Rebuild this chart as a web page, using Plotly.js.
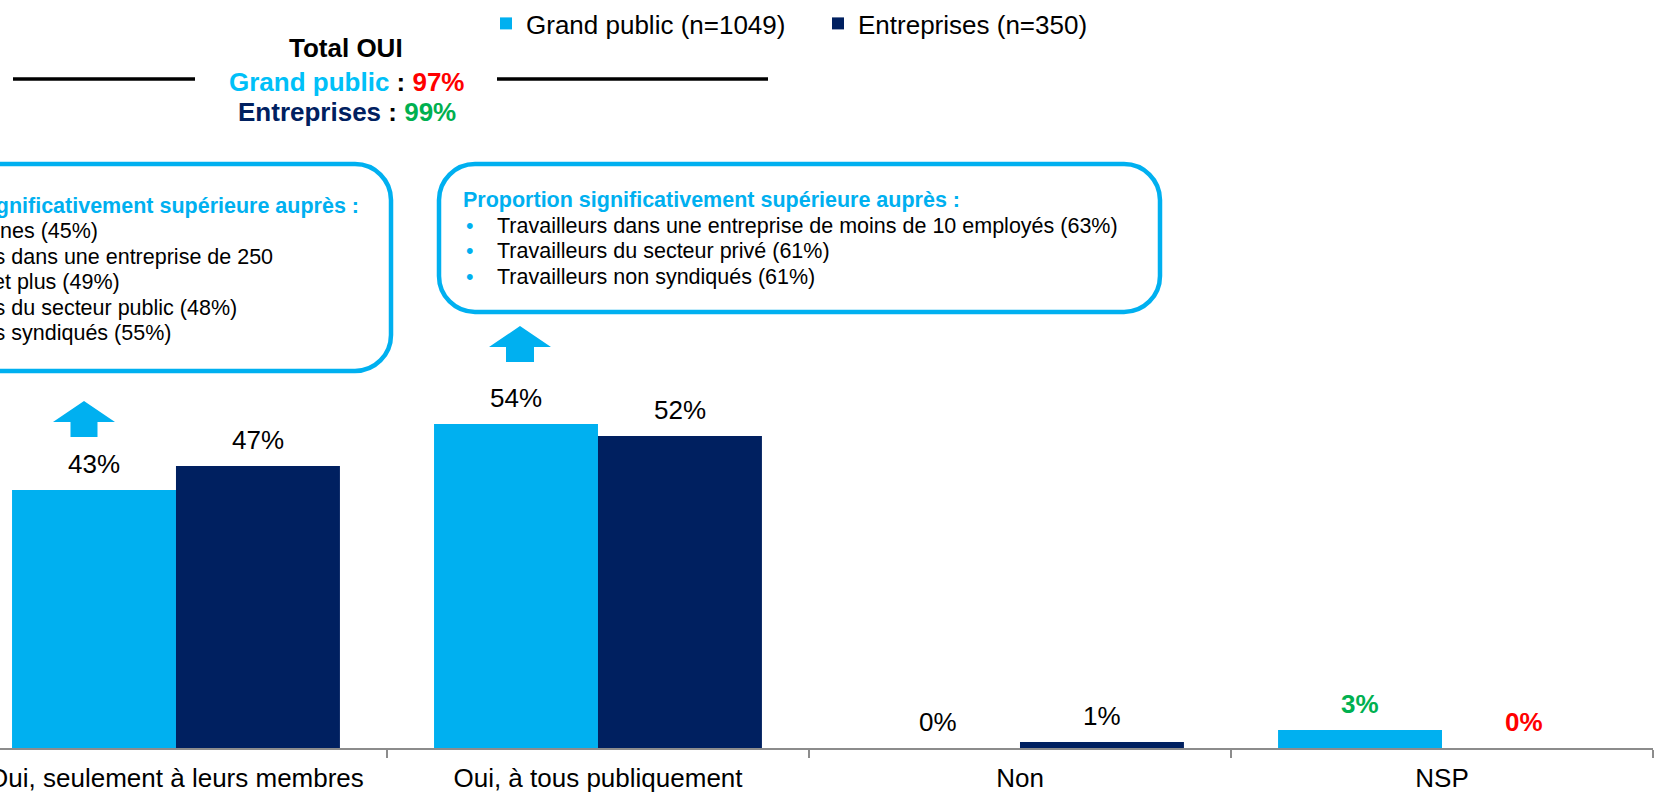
<!DOCTYPE html>
<html><head><meta charset="utf-8">
<script src="https://cdn.plot.ly/plotly-3.0.1.min.js"></script>
<style>html,body{margin:0;padding:0;background:#fff;overflow:hidden}</style>
</head><body><div id="chart" style="width:1657px;height:795px"></div>
<script>
// ---------- data ----------
const categories = ["Oui, seulement à leurs membres", "Oui, à tous publiquement", "Non", "NSP"];
const seriesNames = ["Grand public (n=1049)", "Entreprises (n=350)"];
const grandPublic = [43, 54, 0, 3];
const entreprises = [47, 52, 1, 0];
const labelColorGP = ["#000000", "#000000", "#000000", "#00B050"];
const labelColorEnt = ["#000000", "#000000", "#000000", "#FF0000"];
const labelBoldGP = [false, false, false, true];
const labelBoldEnt = [false, false, false, true];
const totalTitle = "Total OUI";
const totalGroups = ["Grand public", "Entreprises"];
const totalValues = [97, 99];
const totalGroupColors = ["#00C0F8", "#002060"];
const totalValueColors = ["#FF0000", "#00B050"];
const boxTitle = "Proportion significativement supérieure auprès :";
const box1Lines = ["nes (45%)", "Travailleurs dans une entreprise de 250", "employés et plus (49%)", "Travailleurs du secteur public (48%)", "Travailleurs syndiqués (55%)"];
const box1Bullets = [true, true, false, true, true];
const box2Lines = ["Travailleurs dans une entreprise de moins de 10 employés (63%)", "Travailleurs du secteur privé (61%)", "Travailleurs non syndiqués (61%)"];

// ---------- style ----------
const C_LIGHT = "#00B0F0", C_DARK = "#002060";
const FONT = "Liberation Sans, Arial, Helvetica, sans-serif";
const W = 1657, H = 795, ML = 0, MR = 4, MT = 0, MB = 47;
const PW = W - ML - MR, PH = H - MT - MB;
const PX_PER_UNIT = 6;
const BOX_FONT = 21.5;
const X = px => (px - ML) / PW;
const Y = py => (MT + PH - py) / PH;
const f = v => v.toFixed(5);

function roundRect(x0, y0, x1, y1, r) {
  const k = 0.5523 * r;
  return `M${f(X(x0 + r))},${f(Y(y0))} L${f(X(x1 - r))},${f(Y(y0))} ` +
    `C${f(X(x1 - r + k))},${f(Y(y0))} ${f(X(x1))},${f(Y(y0 + r - k))} ${f(X(x1))},${f(Y(y0 + r))} ` +
    `L${f(X(x1))},${f(Y(y1 - r))} ` +
    `C${f(X(x1))},${f(Y(y1 - r + k))} ${f(X(x1 - r + k))},${f(Y(y1))} ${f(X(x1 - r))},${f(Y(y1))} ` +
    `L${f(X(x0 + r))},${f(Y(y1))} ` +
    `C${f(X(x0 + r - k))},${f(Y(y1))} ${f(X(x0))},${f(Y(y1 - r + k))} ${f(X(x0))},${f(Y(y1 - r))} ` +
    `L${f(X(x0))},${f(Y(y0 + r))} ` +
    `C${f(X(x0))},${f(Y(y0 + r - k))} ${f(X(x0 + r - k))},${f(Y(y0))} ${f(X(x0 + r))},${f(Y(y0))} Z`;
}
function upArrow(cx, top, base, bottom, hw, sw) {
  return `M${f(X(cx))},${f(Y(top))} L${f(X(cx + hw))},${f(Y(base))} L${f(X(cx + sw))},${f(Y(base))} ` +
    `L${f(X(cx + sw))},${f(Y(bottom))} L${f(X(cx - sw))},${f(Y(bottom))} L${f(X(cx - sw))},${f(Y(base))} ` +
    `L${f(X(cx - hw))},${f(Y(base))} Z`;
}

const BARGAP = 0.223;
const HALF = (1 - BARGAP) / 4;

const traces = [
  {type: "bar", name: seriesNames[0], x: categories, y: grandPublic, marker: {color: C_LIGHT, line: {width: 0}}},
  {type: "bar", name: seriesNames[1], x: categories, y: entreprises, marker: {color: C_DARK, line: {width: 0}}}
];

const annotations = [];
function valueLabel(i, v, off, color, bold) {
  annotations.push({xref: "x", yref: "y", x: i + off, y: v, yanchor: "bottom", xanchor: "center",
    yshift: 9, showarrow: false, text: bold ? `<b>${v}%</b>` : `${v}%`,
    font: {family: FONT, size: 26, color: color}});
}
grandPublic.forEach((v, i) => valueLabel(i, v, -HALF, labelColorGP[i], labelBoldGP[i]));
entreprises.forEach((v, i) => valueLabel(i, v, HALF, labelColorEnt[i], labelBoldEnt[i]));

function paperText(text, px, py, size, color, anchor) {
  annotations.push({xref: "paper", yref: "paper", x: X(px), y: Y(py), xanchor: anchor || "center", yanchor: "middle",
    showarrow: false, text: text, font: {family: FONT, size: size, color: color}});
}
// Total OUI block
paperText(`<b>${totalTitle}</b>`, 346, 48, 26, "#000000");
totalGroups.forEach((g, i) => {
  paperText(`<b><span style="color:${totalGroupColors[i]}">${g}</span> : <span style="color:${totalValueColors[i]}">${totalValues[i]}%</span></b>`,
    347, 82 + i * 30, 26, "#000000");
});

// box texts
paperText(`<b>${boxTitle}</b>`, 461, 200, BOX_FONT, C_LIGHT, "left");
box2Lines.forEach((t, i) => {
  paperText("•", 464, 226 + i * 25.5, BOX_FONT, C_LIGHT, "left");
  paperText(t, 495, 226 + i * 25.5, BOX_FONT, "#000000", "left");
});
paperText(`<b>${boxTitle}</b>`, -140, 206, BOX_FONT, C_LIGHT, "left");
box1Lines.forEach((t, i) => {
  if (box1Bullets[i]) paperText("•", -138, 231 + i * 25.5, BOX_FONT, C_LIGHT, "left");
  paperText(t, i === 0 ? -2 : -107, 231 + i * 25.5, BOX_FONT, "#000000", "left");
});

const shapes = [
  {type: "line", xref: "paper", yref: "paper", x0: X(13), x1: X(195), y0: Y(79), y1: Y(79), line: {color: "#000000", width: 3.5}},
  {type: "line", xref: "paper", yref: "paper", x0: X(497), x1: X(768), y0: Y(79), y1: Y(79), line: {color: "#000000", width: 3.5}},
  {type: "path", xref: "paper", yref: "paper", path: roundRect(-200, 164, 391, 371, 36), line: {color: C_LIGHT, width: 4.5}, fillcolor: "rgba(0,0,0,0)"},
  {type: "path", xref: "paper", yref: "paper", path: roundRect(439, 164, 1160, 312, 36), line: {color: C_LIGHT, width: 4.5}, fillcolor: "rgba(0,0,0,0)"},
  {type: "path", xref: "paper", yref: "paper", path: upArrow(84, 401, 422, 437, 31, 13.5), line: {width: 0}, fillcolor: C_LIGHT},
  {type: "path", xref: "paper", yref: "paper", path: upArrow(520, 326, 347, 362, 31, 14), line: {width: 0}, fillcolor: C_LIGHT}
];

const layout = {
  width: W, height: H,
  margin: {l: ML, r: MR, t: MT, b: MB, pad: 0},
  paper_bgcolor: "#ffffff", plot_bgcolor: "#ffffff",
  barmode: "group", bargap: BARGAP, bargroupgap: 0,
  font: {family: FONT, size: 26, color: "#000000"},
  showlegend: true,
  legend: {orientation: "h", x: X(486), y: 1, xanchor: "left", yanchor: "top",
    bgcolor: "rgba(0,0,0,0)", font: {family: FONT, size: 26, color: "#000000"}, entrywidth: 287, traceorder: "normal"},
  xaxis: {type: "category", range: [-0.417, 3.5], showline: true, linecolor: "#8C8C8C", linewidth: 2,
    ticks: "outside", ticklen: 8, tickwidth: 1.5, tickcolor: "#8C8C8C", tickson: "boundaries", ticklabelstandoff: 6,
    showgrid: false, zeroline: false, tickfont: {family: FONT, size: 26, color: "#000000"}, automargin: false},
  yaxis: {range: [0, PH / PX_PER_UNIT], visible: false, showgrid: false, zeroline: false, fixedrange: true},
  annotations: annotations,
  shapes: shapes
};

Plotly.newPlot("chart", traces, layout, {staticPlot: true, displayModeBar: false});
</script></body></html>
